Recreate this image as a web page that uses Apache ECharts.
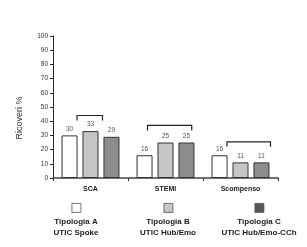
<!DOCTYPE html>
<html><head><meta charset="utf-8">
<script src="https://cdn.jsdelivr.net/npm/echarts@6/dist/echarts.min.js"></script>
<style>html,body{margin:0;padding:0;background:#fff}#c{width:307px;height:247px}</style>
</head><body><div id="c"></div>
<script>
const categories = ['SCA', 'STEMI', 'Scompenso'];
const seriesA = [30, 16, 16];
const seriesB = [33, 25, 11];
const seriesC = [29, 25, 11];
const seriesNames = ['Tipologia A\nUTIC Spoke', 'Tipologia B\nUTIC Hub/Emo', 'Tipologia C\nUTIC Hub/Emo-CCh'];
const yAxisName = 'Ricoveri %';
// brackets: [category index, level, from (category units), to (category units)]
const bracketLevels = [44, 37, 25.5];
const bracketFrom = [-0.18, -0.24, -0.18];
const bracketTo = [0.16, 0.35, 0.40];
const yTicks = {min: 0, max: 100, interval: 10};

const FONT = '"Liberation Sans", Arial, sans-serif';
const colors = ['#ffffff', '#c6c6c6', '#8c8c8c'];
const legendColors = ['#ffffff', '#c8c8c8', '#555555'];

const chart = echarts.init(document.getElementById('c'), null, {renderer: 'canvas'});
const barSeries = [seriesA, seriesB, seriesC].map((d, i) => ({
  type: 'bar', name: seriesNames[i], data: d, barWidth: 16, barGap: '31%',
  itemStyle: {color: colors[i], borderColor: '#333', borderWidth: 1},
  label: {show: true, position: 'top', distance: 3, fontSize: 6.5, color: '#555', fontFamily: FONT},
  silent: true
}));
const bracketData = categories.map((c, i) => [i, bracketLevels[i], bracketFrom[i], bracketTo[i]]);

const legendX = [76, 168, 259];
const graphics = [{
  type: 'text', x: 20, y: 118, rotation: Math.PI / 2,
  style: {text: yAxisName, font: '9px ' + FONT, fill: '#333', textAlign: 'center', textVerticalAlign: 'middle'}
}];
seriesNames.forEach((n, i) => {
  graphics.push({type: 'rect', left: legendX[i] - 4.5, top: 203, shape: {width: 9, height: 9},
    style: {fill: legendColors[i], stroke: '#555', lineWidth: 0.8}});
  graphics.push({type: 'text', x: legendX[i], y: 216,
    style: {text: n, font: 'bold 8px ' + FONT, fill: '#222', textAlign: 'center', lineHeight: 11.5}});
});

chart.setOption({
  animation: false,
  backgroundColor: '#fff',
  grid: {left: 53, right: 29, top: 36, bottom: 69},
  xAxis: {
    type: 'category', data: categories,
    axisLine: {lineStyle: {color: '#444', width: 1.5}},
    axisTick: {show: true, length: 3, lineStyle: {color: '#333'}},
    axisLabel: {fontSize: 7, fontWeight: 'bold', color: '#222', margin: 8, fontFamily: FONT}
  },
  yAxis: {
    type: 'value', min: yTicks.min, max: yTicks.max, interval: yTicks.interval,
    axisLine: {show: true, lineStyle: {color: '#222', width: 1}},
    axisTick: {show: true, length: 3, lineStyle: {color: '#222'}},
    axisLabel: {fontSize: 6.5, color: '#333', margin: 5, fontFamily: FONT},
    splitLine: {show: false}
  },
  graphic: graphics,
  series: barSeries.concat([{
    type: 'custom', data: bracketData, silent: true, z: 5,
    renderItem: function (params, api) {
      const p = api.coord([api.value(0), api.value(1)]);
      const w = api.size([1, 0])[0];
      const x1 = p[0] + api.value(2) * w, x2 = p[0] + api.value(3) * w;
      const drop = 5;
      return {type: 'polyline', shape: {points: [[x1, p[1] + drop], [x1, p[1]], [x2, p[1]], [x2, p[1] + drop]]},
        style: {stroke: '#222', lineWidth: 1.2, fill: null}};
    }
  }])
});
</script></body></html>
